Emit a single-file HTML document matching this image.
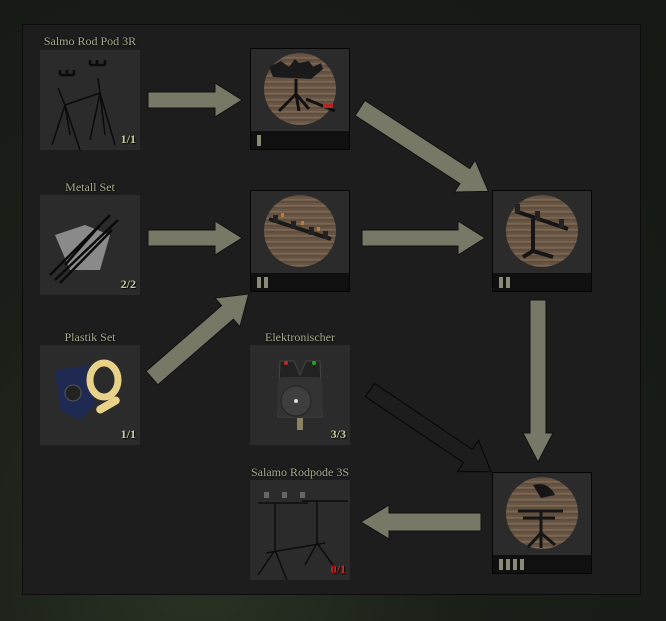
<!DOCTYPE html>
<html><head><style>
html,body{margin:0;padding:0;}
body{width:666px;height:621px;background:radial-gradient(ellipse at 30% 90%,#2a3324 0%,#1a1f18 40%,#151814 100%);position:relative;overflow:hidden;font-family:"Liberation Serif",serif;}
.panel{position:absolute;left:22px;top:24px;width:617px;height:569px;background:#1d1d1d;border:1px solid #0c0c0c;}
.item{position:absolute;width:100px;height:100px;background:#2b2b2b;}
.lbl{position:absolute;width:160px;text-align:center;color:#a9a98f;font-size:12px;font-weight:normal;text-shadow:0 0 2px #000;}
.cnt{position:absolute;right:4px;bottom:3px;font-size:12px;font-weight:bold;color:#c9c99a;text-shadow:1px 1px 1px #000;}
.node{position:absolute;width:98px;height:100px;background:#2b2b2b;border:1px solid #050505;}
.bar{position:absolute;left:0;bottom:0;width:98px;height:18px;background:#101010;}
.pip{position:absolute;top:4px;width:4px;height:11px;background:#8a8a76;}
svg{position:absolute;left:0;top:0;}
</style></head><body>
<div class="panel"></div>
<svg width="666" height="621">
<defs>
<pattern id="wood" width="100" height="6" patternUnits="userSpaceOnUse">
<rect width="100" height="6" fill="#6a5644"/><rect y="2" width="100" height="1.5" fill="#7c6852"/><rect y="4.5" width="100" height="1" fill="#57473a"/>
</pattern>
</defs>
<g fill="#777865" stroke="#111" stroke-width="1">
<g transform="translate(148,100)"><polygon points="0,-8 67,-8 67,-17 94,0 67,17 67,8 0,8"/></g>
<g transform="translate(148,238)"><polygon points="0,-8 67,-8 67,-17 94,0 67,17 67,8 0,8"/></g>
<g transform="translate(362,238)"><polygon points="0,-8 96,-8 96,-17 123,0 96,17 96,8 0,8"/></g>
<g transform="translate(360,108) rotate(33)"><polygon points="0,-9 125,-9 125,-19 153,0 125,19 125,9 0,9"/></g>
<g transform="translate(152,378) rotate(-41)"><polygon points="0,-9 100,-9 100,-19 128,0 100,19 100,9 0,9"/></g>
<g transform="translate(538,300) rotate(90)"><polygon points="0,-8 133,-8 133,-15 162,0 133,15 133,8 0,8"/></g>
<g transform="translate(481,522) rotate(180)"><polygon points="0,-9 92,-9 92,-17 120,0 92,17 92,9 0,9"/></g>
</g>
<g transform="translate(370,390) rotate(34)" fill="#1d1d1d" stroke="#050505" stroke-width="1"><polygon points="0,-8 118,-8 118,-19 146,0 118,19 118,8 0,8"/></g>
</svg>

<div class="lbl" style="left:10px;top:34px">Salmo Rod Pod 3R</div>
<div class="item" style="left:40px;top:50px"><svg width="100" height="100"><g stroke="#0a0a0a" stroke-width="1.5" fill="none"><path d="M18,38 L25,55 L30,85 M25,55 L12,95 M25,55 L40,100 M58,28 L60,43 L50,90 M60,43 L65,85 M60,43 L75,95 M25,55 L60,43"/><path d="M20,25 h14 M20,25 v-5 M27,25 v-5 M34,25 v-5 M50,15 h15 M50,15 v-5 M57,15 v-5 M65,15 v-5" stroke-width="2.5"/></g></svg><div class="cnt">1/1</div></div>

<div class="lbl" style="left:10px;top:180px">Metall Set</div>
<div class="item" style="left:40px;top:195px"><svg width="100" height="100"><polygon points="15,40 45,30 70,40 60,75 30,75" fill="#8a8a8a"/><g stroke="#0a0a0a" stroke-width="2.5"><line x1="10" y1="80" x2="70" y2="20"/><line x1="15" y1="85" x2="78" y2="25"/><line x1="20" y1="88" x2="72" y2="35"/><line x1="25" y1="70" x2="60" y2="30"/></g></svg><div class="cnt">2/2</div></div>

<div class="lbl" style="left:10px;top:330px">Plastik Set</div>
<div class="item" style="left:40px;top:345px"><svg width="100" height="100"><polygon points="15,25 50,20 55,60 40,75 20,65" fill="#1e2a52"/><circle cx="33" cy="48" r="8" fill="#222" stroke="#555"/><ellipse cx="64" cy="35" rx="14" ry="17" fill="none" stroke="#e8d28a" stroke-width="7"/><rect x="55" y="56" width="26" height="8" rx="4" fill="#e8d28a" transform="rotate(-30 68 60)"/></svg><div class="cnt">1/1</div></div>

<div class="lbl" style="left:220px;top:330px">Elektronischer</div>
<div class="item" style="left:250px;top:345px"><svg width="100" height="100"><path d="M30,16 L44,16 L50,30 L56,16 L70,16 L72,72 L28,72 Z" fill="#222" stroke="#444"/><rect x="28" y="32" width="44" height="40" rx="5" fill="#333"/><circle cx="46" cy="56" r="15" fill="#3e3e3e" stroke="#222"/><circle cx="46" cy="56" r="2" fill="#ddd"/><circle cx="36" cy="18" r="2" fill="#c22"/><circle cx="64" cy="18" r="2" fill="#2a2"/><rect x="47" y="73" width="6" height="12" fill="#8a8360"/></svg><div class="cnt">3/3</div></div>

<div class="lbl" style="left:220px;top:465px">Salamo Rodpode 3S</div>
<div class="item" style="left:250px;top:480px"><svg width="100" height="100"><g stroke="#0c0c0c" stroke-width="1.5" fill="none"><path d="M8,23 H58 M52,21 H98 M25,23 V70 M67,21 V63 M16,73 L75,63 M25,70 L8,95 M25,70 L40,108 M67,63 L55,85 M67,63 L88,92"/></g><g fill="#666"><rect x="14" y="12" width="5" height="6"/><rect x="32" y="12" width="5" height="6"/><rect x="50" y="12" width="5" height="6"/></g></svg><div class="cnt" style="color:#d22">0/1</div></div>

<div class="node" style="left:250px;top:48px"><svg width="98" height="82"><circle cx="49" cy="40" r="36" fill="url(#wood)"/><path d="M18,18 L22,28 L60,30 L72,20 L70,14 L62,18 L58,12 L48,14 L44,10 L38,18 L30,12 Z" fill="#1a1a1a"/><path d="M45,30 L45,45 L28,62 M45,45 L48,62 M45,45 L58,60 M55,50 L84,62" stroke="#111" stroke-width="3" fill="none"/><rect x="72" y="55" width="10" height="4" fill="#b22"/></svg><div class="bar"><div class="pip" style="left:6px"></div></div></div>

<div class="node" style="left:250px;top:190px"><svg width="98" height="82"><circle cx="49" cy="40" r="36" fill="url(#wood)"/><path d="M18,28 L80,48" stroke="#1a1a1a" stroke-width="4"/><g fill="#222"><rect x="22" y="24" width="5" height="8"/><rect x="40" y="30" width="5" height="8"/><rect x="58" y="36" width="5" height="8"/><rect x="72" y="40" width="5" height="8"/></g><g fill="#c87a2a"><rect x="30" y="22" width="3" height="4"/><rect x="50" y="30" width="3" height="4"/><rect x="66" y="36" width="3" height="4"/></g></svg><div class="bar"><div class="pip" style="left:6px"></div><div class="pip" style="left:13px"></div></div></div>

<div class="node" style="left:492px;top:190px"><svg width="98" height="82"><circle cx="49" cy="40" r="36" fill="url(#wood)"/><path d="M22,20 L75,38 M40,28 L40,60 L60,66 M40,60 L30,66" stroke="#151515" stroke-width="4" fill="none"/><g fill="#222"><rect x="22" y="13" width="5" height="9"/><rect x="42" y="20" width="5" height="9"/><rect x="66" y="28" width="5" height="9"/></g></svg><div class="bar"><div class="pip" style="left:6px"></div><div class="pip" style="left:13px"></div></div></div>

<div class="node" style="left:492px;top:472px"><svg width="98" height="82"><circle cx="49" cy="40" r="36" fill="url(#wood)"/><path d="M40,12 Q55,8 62,22 L48,25 Z" fill="#151515"/><path d="M25,38 H70 M30,45 H62 M48,38 V75 M48,60 L35,74 M48,60 L62,72" stroke="#151515" stroke-width="3" fill="none"/></svg><div class="bar"><div class="pip" style="left:6px"></div><div class="pip" style="left:13px"></div><div class="pip" style="left:20px"></div><div class="pip" style="left:27px"></div></div></div>
</body></html>
